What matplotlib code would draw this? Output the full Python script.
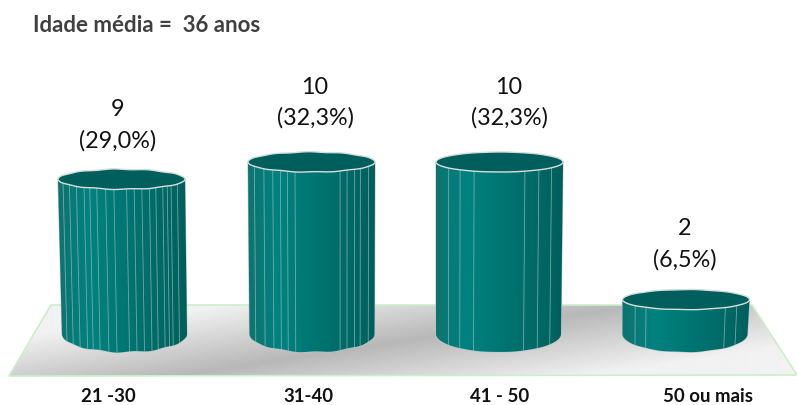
#!/usr/bin/env python3
import numpy as np
import matplotlib
matplotlib.use("Agg")
import matplotlib.pyplot as plt
from matplotlib.patches import Polygon
from matplotlib.colors import LinearSegmentedColormap

W, H = 797, 405

categories = ["21 -30", "31-40", "41 - 50", "50 ou mais"]
counts = [9, 10, 10, 2]
percents = ["(29,0%)", "(32,3%)", "(32,3%)", "(6,5%)"]
title = "Idade média =  36 anos"

# axis scale: px per category / px per count, baseline pixel
px_cat = 188.0
px_val = 17.2
x0_px, y0_px = 122.0, 334.0

# facet lines of each cylinder, -1..1 across the width
facets = [
    [-.92, -.82, -.71, -.59, -.50, -.39, -.25, -.12, .08, .20, .32, .44, .54, .65, .72, .78, .88],
    [-.90, -.75, -.61, -.49, -.38, -.26, .45, .56, .68, .77, .90],
    [-.80, -.62, -.40, .40, .62, .82],
    [-.80, -.63, .62, .80],
]
wobble = [0.8, 0.65, 0.1, 0.3]
shift_top = [-0.5, 1.5, 1.5, 0.0]
shift_bottom = [2.5, 2.0, 0.5, -1.0]

# label placement, px
label_x = [118, 315, 509, 685]
count_above = [70, 75, 75, 71]
pct_above = [38, 44, 44, 40]
cat_x = [108, 308, 500, 708]

plt.rcParams["font.family"] = ["Lato", "DejaVu Sans"]
fig = plt.figure(figsize=(W / 100, H / 100), dpi=100)
ax = fig.add_axes([0, 0, 1, 1])
xlim = (-x0_px / px_cat, (W - x0_px) / px_cat)
ylim = ((y0_px - H) / px_val, y0_px / px_val)
ax.set_axis_off()


def xd(px):
    return (px - x0_px) / px_cat


def yd(py):
    return (y0_px - py) / px_val


# floor, gradient runs across a diagonal dark band
floor_px = [(51, 305), (752, 305), (797, 375), (9, 376)]
floor = Polygon([(xd(a), yd(b)) for a, b in floor_px], closed=True, fc="none", ec="#c9f0c9", lw=1.2, zorder=2)
ax.add_patch(floor)
gx, gy = np.meshgrid(np.linspace(0, W, 400), np.linspace(300, 380, 80))
u = (gx - 410) / 413 + (gy - 340) / 64
g = np.clip(np.abs(u), 0, 1)
floor_img = ax.imshow(g, extent=(xd(0), xd(W), yd(380), yd(300)), origin="upper", aspect="auto",
                      cmap=LinearSegmentedColormap.from_list("fl", ["#b8b8b8", "#f2f2f2"]), vmin=0, vmax=1, zorder=1)
floor_img.set_clip_path(Polygon([(xd(a), yd(b)) for a, b in floor_px], closed=True, transform=ax.transData))

body_cmap = LinearSegmentedColormap.from_list(
    "body", [(0, "#11706c"), (.27, "#008280"), (.6, "#00726e"), (.9, "#006360"), (1, "#005a58")])

rx_top = 63.5 / px_cat
rx_bot = 62.5 / px_cat
ry = 10.0 / px_val

for i, v in enumerate(counts):
    c_t = i + shift_top[i] / px_cat
    c_b = i + shift_bottom[i] / px_cat
    bot = 0.0
    # ribbed outline: small ripple on the ellipse
    t = np.linspace(0, 2 * np.pi, 241)
    ripple = 1 + wobble[i] / 10.0 * 0.5 * np.cos(11 * t + i)
    ex = np.cos(t)
    ey = np.sin(t) * ripple
    top_x = c_t + rx_top * ex
    top_y = v + ry * ey
    front = t >= np.pi
    bx = c_b + rx_bot * ex[front]
    by = bot + 1.8 * ry * ey[front]
    body_path = np.vstack([
        np.column_stack([top_x[front][::-1], top_y[front][::-1]]),
        np.column_stack([bx, by]),
    ])
    ax.add_patch(Polygon(body_path, closed=True, fc="none", ec="#b9c9c8", lw=0.8, zorder=3 + i))
    grad = np.linspace(0, 1, 256).reshape(1, -1)
    im = ax.imshow(grad, extent=(i - rx_top * 1.1, i + rx_top * 1.1, -2, v + 1), origin="lower", aspect="auto",
                   cmap=body_cmap, zorder=3 + i)
    im.set_clip_path(Polygon(body_path, closed=True, transform=ax.transData))

    # rib lines
    for f in facets[i]:
        yy_t = v - ry * np.sqrt(1 - f * f)
        yy_b = bot - 1.8 * ry * np.sqrt(1 - f * f)
        ax.plot([c_t + rx_top * f, c_b + rx_bot * f], [yy_t, yy_b], color="#9fc4c2", lw=0.6, alpha=.7, zorder=3 + i)

    ax.add_patch(Polygon(np.column_stack([top_x, top_y]), closed=True, fc="#005f5c", ec="#d5dedd", lw=1.0, zorder=3 + i))

    ax.text(xd(label_x[i]), v + count_above[i] / px_val, str(v), ha="center", va="center",
            fontsize=16.8, color="#111111", zorder=10)
    ax.text(xd(label_x[i]), v + pct_above[i] / px_val, percents[i], ha="center", va="center",
            fontsize=16.8, color="#111111", zorder=10)
    ax.text(xd(cat_x[i]), yd(396), categories[i], ha="center", va="center", fontsize=13.4,
            fontweight="bold", color="#111111", zorder=10)

ax.text(xd(33), yd(25), title, ha="left", va="center", fontsize=16, fontweight="bold", color="#404040")

ax.set_xlim(*xlim)
ax.set_ylim(*ylim)
fig.savefig("out.png", dpi=100)
